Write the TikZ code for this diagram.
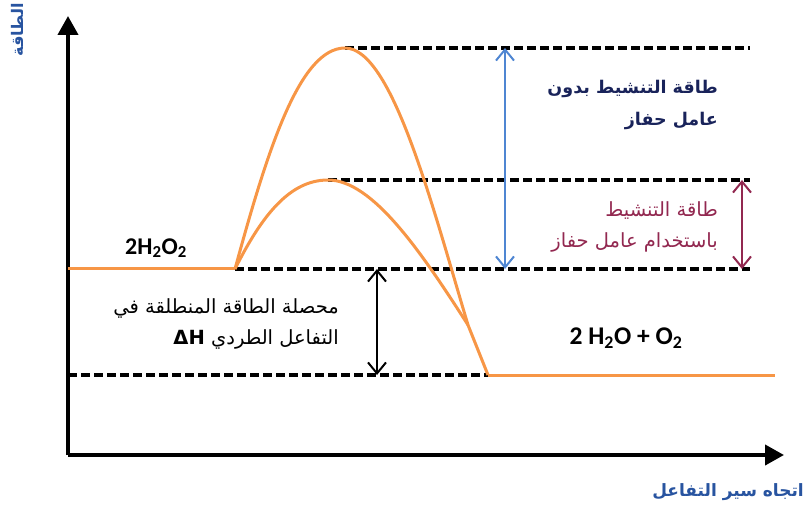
\documentclass[tikz,border=0pt]{standalone}
\usepackage{fontspec}
\setmainfont{Carlito}
\newfontfamily\arabicfont[Script=Arabic]{DejaVu Sans}
\TeXXeTstate=1
\usetikzlibrary{arrows.meta}
\definecolor{eorange}{RGB}{247,150,70}
\definecolor{eblue}{RGB}{79,134,210}
\definecolor{emaroon}{RGB}{146,40,80}
\definecolor{enavy}{RGB}{25,35,90}
\definecolor{axblue}{RGB}{40,84,160}
\begin{document}
\begin{tikzpicture}[x=1pt,y=-1pt,
  axis/.style={line width=4pt,-{Triangle[length=19pt,width=20pt]}},
  level/.style={draw=eorange,line width=3pt},
  dashline/.style={line width=3.4pt,dash pattern=on 9pt off 4pt},
  dim/.style={line width=2pt,{Straight Barb[length=11pt,width=18pt]}-{Straight Barb[length=11pt,width=18pt]}},
  ar/.style={font=\arabicfont\fontsize{19.5}{31}\selectfont,align=right,inner sep=0pt,anchor=east},
  chem/.style={font=\bfseries\fontsize{24}{26}\selectfont,inner sep=0pt}]
\useasboundingbox (0,0) rectangle (805,510);
% key points
\coordinate (O) at (68,455);
\coordinate (Ytop) at (68,16);
\coordinate (Xend) at (784,455);
\coordinate (R0) at (68,269);
\coordinate (R1) at (235,269);
\coordinate (P0) at (488,375);
\coordinate (P1) at (775,375);
\coordinate (D0) at (68,375);
\coordinate (Hi) at (345,48);
\coordinate (Lo) at (328,180);
\coordinate (K) at (468,325);
\coordinate (HiE) at (750,48);
\coordinate (LoE) at (750,180);
\coordinate (RE) at (750,269);
% axes
\draw[axis] (O) -- (Ytop);
\draw[axis] (O) -- (Xend);
% dashed levels
\draw[dashline] (Hi) -- (HiE);
\draw[dashline] (Lo) -- (LoE);
\draw[dashline] (R1) -- (RE);
\draw[dashline] (D0) -- (P0);
% orange levels and curves
\draw[level] (R0) -- (R1);
\draw[level] (P0) -- (P1);
\draw[level] (R1) .. controls (268,148) and (300,48) .. (Hi)
  .. controls (392,48) and (432,205) .. (K) -- (P0);
\draw[level] (R1) .. controls (262,215) and (290,180) .. (Lo)
  .. controls (372,180) and (420,250) .. (K);
% dimension arrows
\coordinate (B1) at (505,48);
\coordinate (B2) at (505,269);
\coordinate (M1) at (742,180);
\coordinate (M2) at (742,269);
\coordinate (N1) at (377,269);
\coordinate (N2) at (377,375);
\draw[dim,draw=eblue] (B1) -- (B2);
\draw[dim,draw=emaroon] (M1) -- (M2);
\draw[dim,draw=black] (N1) -- (N2);
% texts
\node[chem] (reac) at (156,248) {2H\textsubscript{2}O\textsubscript{2}};
\node[chem,font=\bfseries\fontsize{25.5}{28}\selectfont] (prod) at (626,338) {2 H\textsubscript{2}O + O\textsubscript{2}};
\node[ar,text=enavy,font=\arabicfont\bfseries\fontsize{17.5}{32}\selectfont] (t1) at (718,105)
  {\beginR طاقة التنشيط بدون\endR\\ \beginR عامل حفاز\endR};
\node[ar,text=emaroon] (t2) at (718,227)
  {\beginR طاقة التنشيط\endR\\ \beginR باستخدام عامل حفاز\endR};
\node[ar,text=black] (t3) at (339,324)
  {\beginR محصلة الطاقة المنطلقة في\endR\\ \beginR التفاعل الطردي \beginL\textbf{ΔH}\endL\endR};
\node[rotate=90,text=axblue,font=\arabicfont\bfseries\fontsize{16}{18}\selectfont,inner sep=0pt] (ylab) at (17,30) {\beginR الطاقة\endR};
\node[anchor=east,text=axblue,font=\arabicfont\bfseries\fontsize{17}{20}\selectfont,inner sep=0pt] (xlab) at (804,492) {\beginR اتجاه سير التفاعل\endR};
\end{tikzpicture}
\end{document}
